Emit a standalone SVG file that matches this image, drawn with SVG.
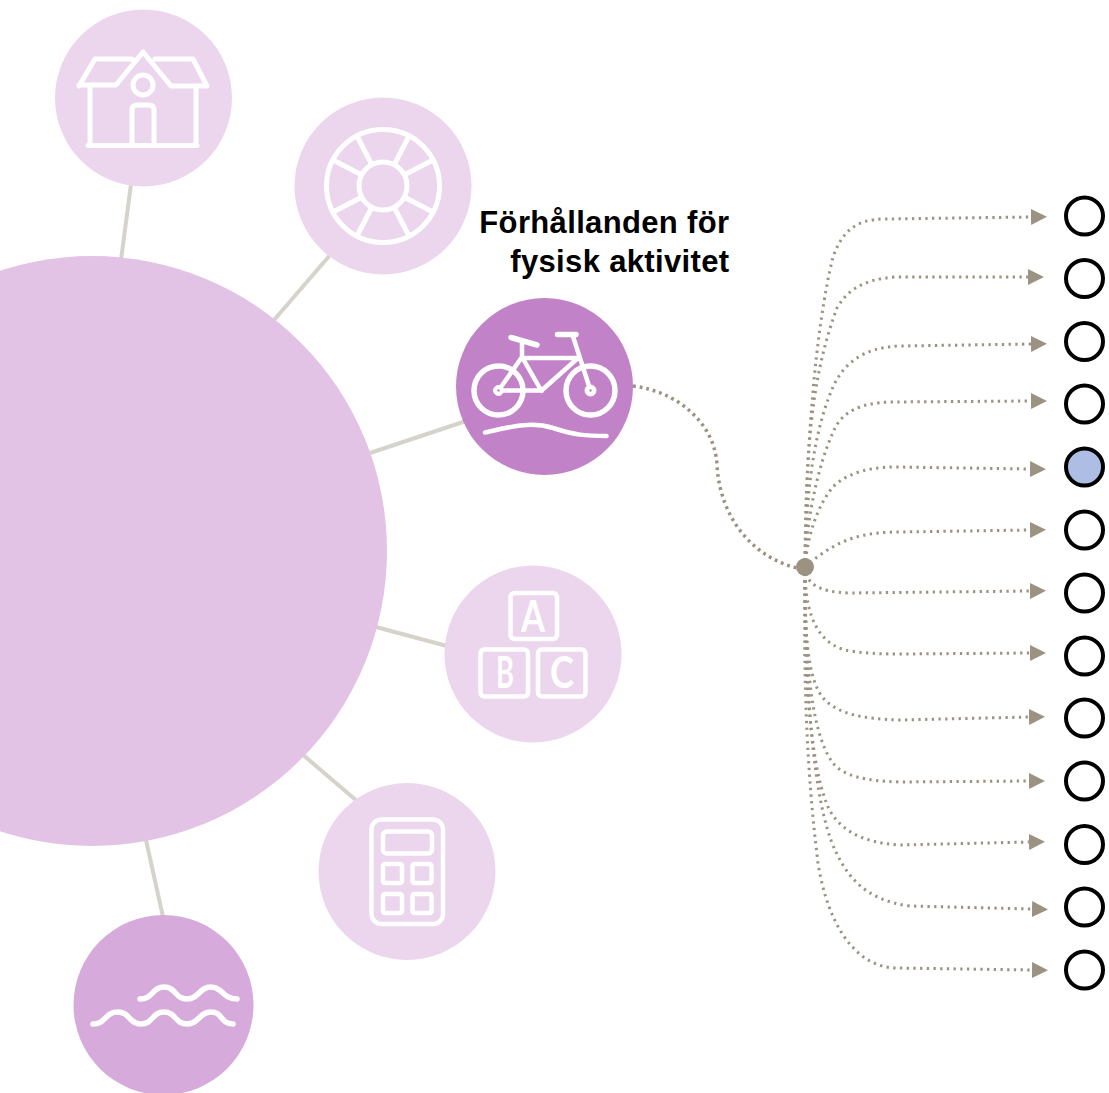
<svg xmlns="http://www.w3.org/2000/svg" width="1109" height="1093" viewBox="0 0 1109 1093">
<style>
.spoke{stroke:#d5d3ca;stroke-width:4;fill:none}
.dot{stroke:#9c9282;stroke-width:3;stroke-dasharray:2.300 4.400;fill:none;marker-end:url(#tip)}
.ic{stroke:#fff;fill:none;stroke-linecap:round;stroke-linejoin:round}
.t{fill:#fff;stroke:#000;stroke-width:4}
.lt{fill:#ebd6ed}
.lbl{font-family:"Liberation Sans",Arial,sans-serif;font-weight:700;font-size:31px;letter-spacing:.35px;fill:#000;text-anchor:end}
.let{font-family:"Lato","Open Sans",sans-serif;font-size:44px;font-weight:700;fill:#fff;text-anchor:middle}
</style>
<defs>
<marker id="tip" markerUnits="userSpaceOnUse" markerWidth="16" markerHeight="16" viewBox="0 0 16 16" refX="0" refY="8" orient="auto"><path d="M0,0L16,8L0,16Z" fill="#9c9282"/></marker>
</defs>
<rect width="1109" height="1093" fill="#fff"/>
<g id="spokes">
<path class="spoke" d="M121,260L131,184"/>
<path class="spoke" d="M274,320L331,254"/>
<path class="spoke" d="M370,453L466,421"/>
<path class="spoke" d="M376,627L447,646"/>
<path class="spoke" d="M302,754L357,801"/>
<path class="spoke" d="M146,840L163,917"/>
</g>
<g id="connectors">
<path class="dot" style="marker-end:none;stroke-width:3.500;stroke-dasharray:2.800 3.900" d="M633,386C680,392 715,425 717,465C720,520 755,558 797,568"/>
<path class="dot" d="M805,567C806,450 815,330 833,257C842,232 855,219 885,219L1031,217"/>
<path class="dot" d="M805,567C806,470 808,385 837,308C846,292 862,279 895,277L1028,277"/>
<path class="dot" d="M805,567C806,510 810,440 833,387C843,365 862,347 900,346L1031,344"/>
<path class="dot" d="M805,567C806,530 815,470 835,428C843,412 860,403 890,402L1031,401"/>
<path class="dot" d="M805,567C807,540 815,510 832,488C842,477 862,467 895,467L1030,469"/>
<path class="dot" d="M805,567C815,558 830,547 845,541C862,534 880,532 900,532L1030,530"/>
<path class="dot" d="M805,567C806,582 815,592 850,593L1030,591"/>
<path class="dot" d="M805,567C805,600 810,640 845,650C855,652 870,654 900,654L1030,653"/>
<path class="dot" d="M805,567C805,620 805,680 825,700C838,713 860,719 900,720L1029,717"/>
<path class="dot" d="M805,567C805,640 808,730 833,763C843,776 865,781 900,782L1029,781"/>
<path class="dot" d="M805,567C805,660 808,760 828,807C838,828 860,843 900,845L1029,842"/>
<path class="dot" d="M805,567C805,680 812,800 835,850C846,873 862,900 910,906L1032,909"/>
<path class="dot" d="M805,567C804,650 804,750 818,863C826,915 850,966 895,968L1032,970"/>
</g>
<g id="hub"><circle cx="805" cy="567" r="9" fill="#9c9282"/></g>
<g id="center"><circle cx="92" cy="551" r="295" fill="#e3c3e5"/></g>
<g id="house">
<circle class="lt" cx="143.500" cy="98" r="88.500"/>
<g class="ic" stroke-width="5">
<path d="M79,86L95,59H132M155,59H193L207,86H171L143,52L116,85H79"/>
<path d="M90,86V145M196,86V145M88,145.500H197"/>
<circle cx="143" cy="85" r="10"/>
<path d="M132,145V110Q132,105 137,105H149Q154,105 154,110V145"/>
</g>
</g>
<g id="wheel">
<circle class="lt" cx="383" cy="186" r="88.500"/>
<g class="ic" stroke-width="5" style="stroke-linecap:butt">
<circle cx="383" cy="186" r="56.500"/>
<circle cx="383" cy="186" r="24"/>
<path d="M404,175L433,160M404,197L433,212M362,175L333,160M362,197L333,212M394,165L409,136M394,207L409,236M372,165L357,136M372,207L357,236"/>
</g>
</g>
<g id="bike">
<circle cx="544.500" cy="386.500" r="88.500" fill="#c182c8"/>
<g class="ic" stroke-width="5.500">
<circle cx="498.500" cy="390.500" r="24.500"/>
<circle cx="590.500" cy="390.500" r="24.500"/>
<path stroke-width="4.500" d="M498.500,390.500H541.500L578,358H522M498.500,390.500L522,357V342M541.500,391L522,357M573,336.500L590.500,390.500"/>
<path d="M557.500,334.500H576M511,337.500L537,345"/>
<path stroke-width="4.500" d="M485,432.500C510,427 530,421 553,428C575,435 585,436 606.500,436"/>
</g>
<circle cx="498.500" cy="390.500" r="5" fill="#fff" stroke="#fff"/><circle cx="498.500" cy="390.500" r="1.200" fill="#c182c8"/>
<circle cx="590.500" cy="390.500" r="5.500" fill="#fff" stroke="#fff"/><circle cx="590.500" cy="390.500" r="1.200" fill="#c182c8"/>
<text class="lbl" x="729.500" y="233">Förhållanden för</text>
<text class="lbl" x="729.500" y="271.500">fysisk aktivitet</text>
</g>
<g id="blocks">
<circle class="lt" cx="533" cy="654" r="88.500"/>
<g class="ic" stroke-width="4.500">
<rect x="510.500" y="593" width="46.500" height="46" rx="4"/>
<rect x="480.500" y="649.500" width="47.500" height="47" rx="4"/>
<rect x="538" y="649.500" width="47.500" height="47" rx="4"/>
</g>
<text class="let" x="533" y="632" textLength="24" lengthAdjust="spacingAndGlyphs">A</text>
<text class="let" x="505" y="688" textLength="18" lengthAdjust="spacingAndGlyphs">B</text>
<text class="let" x="562" y="688" textLength="24" lengthAdjust="spacingAndGlyphs" font-weight="400">C</text>
</g>
<g id="calculator">
<circle class="lt" cx="407" cy="871.500" r="88.500"/>
<g class="ic" stroke-width="4.500">
<rect x="371.500" y="819.500" width="71.500" height="104.500" rx="10"/>
<rect x="383" y="831.500" width="49" height="22" rx="4"/>
<rect x="383" y="864" width="19" height="19" rx="2"/>
<rect x="412.500" y="864" width="19" height="19" rx="2"/>
<rect x="383" y="894" width="19" height="19" rx="2"/>
<rect x="412.500" y="894" width="19" height="19" rx="2"/>
</g>
</g>
<g id="waves">
<circle cx="163.500" cy="1005" r="90" fill="#d6abdb"/>
<g class="ic" stroke-width="5.500">
<path d="M140,999C153,999 152,987 164,987C176,987 175,999 187,999C199,999 199,987 211,987C223,987 222,999 237,999"/>
<path d="M93,1024C106,1024 105,1012 117.500,1012C130,1012 129,1024 141,1024C153,1024 152,1012 164,1012C176,1012 175,1024 187,1024C199,1024 199,1012 211,1012C223,1012 220,1024 233,1024"/>
</g>
</g>
<g id="targets">
<circle class="t" cx="1084.500" cy="216" r="18.500"/>
<circle class="t" cx="1084.500" cy="278.500" r="18.500"/>
<circle class="t" cx="1084.500" cy="341.500" r="18.500"/>
<circle class="t" cx="1084.500" cy="404" r="18.500"/>
<circle class="t" cx="1084.500" cy="467" r="18.500" style="fill:#aebde3"/>
<circle class="t" cx="1084.500" cy="530" r="18.500"/>
<circle class="t" cx="1084.500" cy="593" r="18.500"/>
<circle class="t" cx="1084.500" cy="656" r="18.500"/>
<circle class="t" cx="1084.500" cy="718" r="18.500"/>
<circle class="t" cx="1084.500" cy="781" r="18.500"/>
<circle class="t" cx="1084.500" cy="844.500" r="18.500"/>
<circle class="t" cx="1084.500" cy="907" r="18.500"/>
<circle class="t" cx="1084.500" cy="970" r="18.500"/>
</g>
</svg>
